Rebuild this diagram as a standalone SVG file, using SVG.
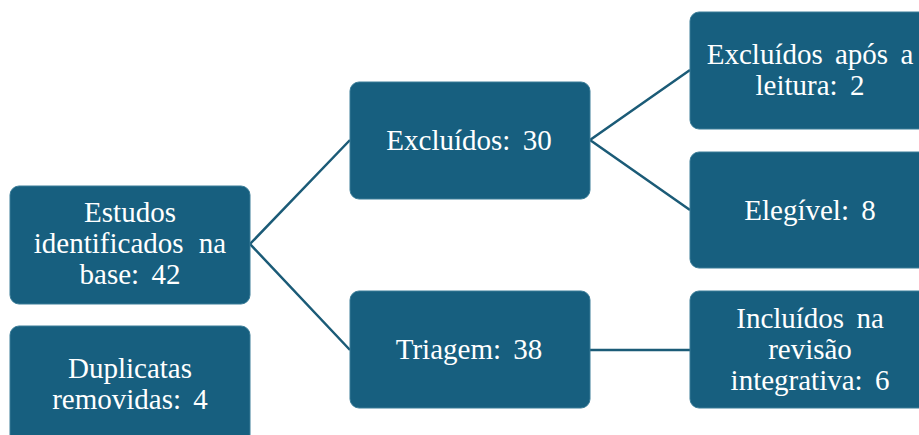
<svg xmlns="http://www.w3.org/2000/svg" width="919" height="435" viewBox="0 0 919 435">
<style>
.box{fill:#175f7f;stroke:#3b7d98;stroke-width:1}
.lbl{font-size:29px;fill:#ffffff;text-anchor:middle;word-spacing:5px}
.conn{stroke:#1b5b77;stroke-width:2.5;fill:none}
</style>
<rect width="919" height="435" fill="#ffffff"/>
<g id="connectors">
<path class="conn" d="M350,140 L250,244 L350,350"/>
<path class="conn" d="M690,70 L590,140 L690,210"/>
<path class="conn" d="M590,350 L690,350"/>
</g>
<g font-family="Liberation Serif, DejaVu Serif, serif">
<g id="n-estudos">
<rect class="box" x="10" y="186" width="240" height="118" rx="9"/>
<text class="lbl" x="130" y="222">Estudos</text>
<text class="lbl" x="130" y="253" style="word-spacing:8px">identificados na</text>
<text class="lbl" x="130" y="284">base: 42</text>
</g>
<g id="n-duplicatas">
<rect class="box" x="10" y="326" width="240" height="118" rx="9"/>
<text class="lbl" x="130" y="378">Duplicatas</text>
<text class="lbl" x="130" y="409">removidas: 4</text>
</g>
<g id="n-excluidos">
<rect class="box" x="350" y="82" width="240" height="117" rx="9"/>
<text class="lbl" x="469" y="150">Excluídos: 30</text>
</g>
<g id="n-triagem">
<rect class="box" x="350" y="291" width="240" height="117" rx="9"/>
<text class="lbl" x="469" y="359">Triagem: 38</text>
</g>
<g id="n-excluidos-leitura">
<rect class="box" x="690" y="12" width="240" height="117" rx="9"/>
<text class="lbl" x="810" y="64">Excluídos após a</text>
<text class="lbl" x="810" y="95">leitura: 2</text>
</g>
<g id="n-elegivel">
<rect class="box" x="690" y="152" width="240" height="116" rx="9"/>
<text class="lbl" x="810" y="220">Elegível: 8</text>
</g>
<g id="n-incluidos">
<rect class="box" x="690" y="291" width="240" height="117" rx="9"/>
<text class="lbl" x="810" y="328">Incluídos na</text>
<text class="lbl" x="810" y="359">revisão</text>
<text class="lbl" x="810" y="390">integrativa: 6</text>
</g>
</g>
</svg>
